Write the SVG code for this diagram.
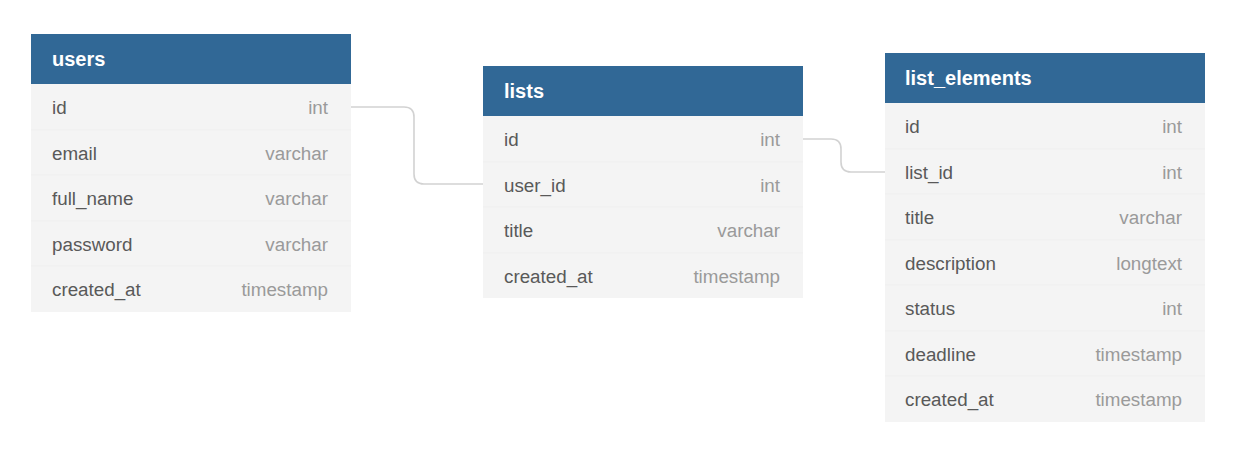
<svg xmlns="http://www.w3.org/2000/svg" width="1237" height="455" viewBox="0 0 1237 455">
<style>
.hdr{fill:#316896}
.body{fill:#f4f4f4}
.sep{stroke:#efefef;stroke-width:1}
.title{font-family:"Liberation Sans",Arial,sans-serif;font-size:20px;font-weight:bold;fill:#ffffff}
.fname{font-family:"Liberation Sans",Arial,sans-serif;font-size:18.8px;fill:#595959}
.ftype{font-family:"Liberation Sans",Arial,sans-serif;font-size:18.8px;fill:#9a9a9a;text-anchor:end}
.conn{fill:none;stroke:#d2d2d2;stroke-width:1.6}
</style>
<rect width="1237" height="455" fill="#ffffff"/>
<g id="connectors">
<path class="conn" d="M351,107 H404 Q414,107 414,117 V174 Q414,184 424,184 H483"/>
<path class="conn" d="M803,139 H831 Q841,139 841,149 V162 Q841,172 851,172 H885"/>
</g>
<g id="users">
<rect class="body" x="31" y="84" width="320" height="228"/>
<line class="sep" x1="31" y1="130" x2="351" y2="130"/>
<line class="sep" x1="31" y1="175" x2="351" y2="175"/>
<line class="sep" x1="31" y1="221" x2="351" y2="221"/>
<line class="sep" x1="31" y1="266" x2="351" y2="266"/>
<rect class="hdr" x="31" y="34" width="320" height="50"/>
<text class="title" x="52" y="66">users</text>
<text class="fname" x="52" y="114">id</text><text class="ftype" x="328" y="114">int</text>
<text class="fname" x="52" y="160">email</text><text class="ftype" x="328" y="160">varchar</text>
<text class="fname" x="52" y="205">full_name</text><text class="ftype" x="328" y="205">varchar</text>
<text class="fname" x="52" y="251">password</text><text class="ftype" x="328" y="251">varchar</text>
<text class="fname" x="52" y="296">created_at</text><text class="ftype" x="328" y="296">timestamp</text>
</g>
<g id="lists">
<rect class="body" x="483" y="116" width="320" height="182"/>
<line class="sep" x1="483" y1="162" x2="803" y2="162"/>
<line class="sep" x1="483" y1="207" x2="803" y2="207"/>
<line class="sep" x1="483" y1="253" x2="803" y2="253"/>
<rect class="hdr" x="483" y="66" width="320" height="50"/>
<text class="title" x="504" y="98">lists</text>
<text class="fname" x="504" y="146">id</text><text class="ftype" x="780" y="146">int</text>
<text class="fname" x="504" y="192">user_id</text><text class="ftype" x="780" y="192">int</text>
<text class="fname" x="504" y="237">title</text><text class="ftype" x="780" y="237">varchar</text>
<text class="fname" x="504" y="283">created_at</text><text class="ftype" x="780" y="283">timestamp</text>
</g>
<g id="list_elements">
<rect class="body" x="885" y="103" width="320" height="319"/>
<line class="sep" x1="885" y1="149" x2="1205" y2="149"/>
<line class="sep" x1="885" y1="194" x2="1205" y2="194"/>
<line class="sep" x1="885" y1="240" x2="1205" y2="240"/>
<line class="sep" x1="885" y1="285" x2="1205" y2="285"/>
<line class="sep" x1="885" y1="331" x2="1205" y2="331"/>
<line class="sep" x1="885" y1="376" x2="1205" y2="376"/>
<rect class="hdr" x="885" y="53" width="320" height="50"/>
<text class="title" x="905" y="85">list_elements</text>
<text class="fname" x="905" y="133">id</text><text class="ftype" x="1182" y="133">int</text>
<text class="fname" x="905" y="179">list_id</text><text class="ftype" x="1182" y="179">int</text>
<text class="fname" x="905" y="224">title</text><text class="ftype" x="1182" y="224">varchar</text>
<text class="fname" x="905" y="270">description</text><text class="ftype" x="1182" y="270">longtext</text>
<text class="fname" x="905" y="315">status</text><text class="ftype" x="1182" y="315">int</text>
<text class="fname" x="905" y="361">deadline</text><text class="ftype" x="1182" y="361">timestamp</text>
<text class="fname" x="905" y="406">created_at</text><text class="ftype" x="1182" y="406">timestamp</text>
</g>
</svg>
